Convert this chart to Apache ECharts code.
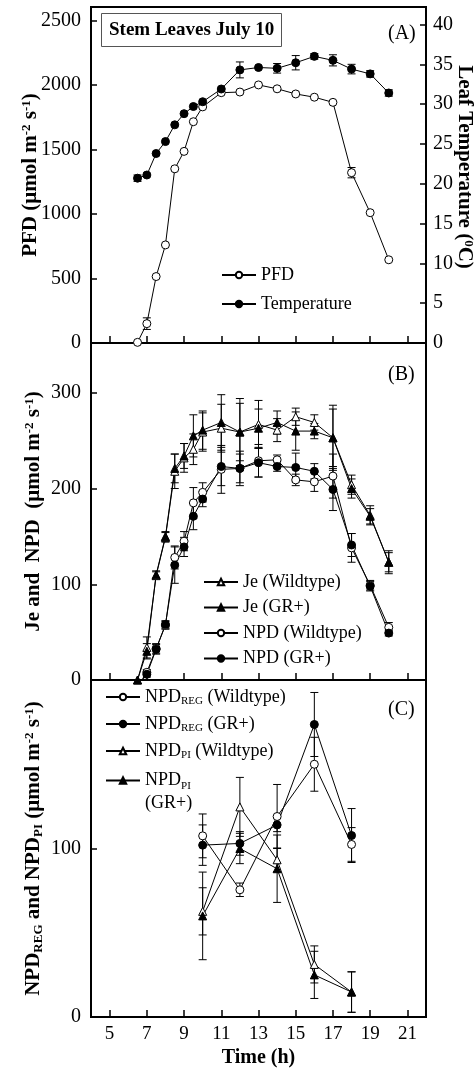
<!DOCTYPE html>
<html>
<head>
<meta charset="utf-8">
<script src="https://cdn.jsdelivr.net/npm/echarts@6/dist/echarts.min.js"></script>
<style>html,body{margin:0;padding:0;background:#fff}#c{width:475px;height:1072px}</style>
</head>
<body>
<div id="c"></div>
<script>
// ---------- DATA ----------
const xTicks = [5, 7, 9, 11, 13, 15, 17, 19, 21];
const pfdTicks = [0, 500, 1000, 1500, 2000, 2500];
const tempTicks = [0, 5, 10, 15, 20, 25, 30, 35, 40];
const jeTicks = [0, 100, 200, 300];
const npdTicks = [0, 100];

const hoursA = [6.5, 7, 7.5, 8, 8.5, 9, 9.5, 10, 11, 12, 13, 14, 15, 16, 17, 18, 19, 20];
const pfd     = [5, 150, 515, 760, 1350, 1485, 1715, 1830, 1940, 1945, 2000, 1970, 1930, 1905, 1865, 1320, 1010, 645];
const pfdErr  = [0, 45, 0, 0, 0, 0, 0, 0, 0, 0, 0, 0, 0, 0, 0, 40, 0, 0];
const temp    = [20.7, 21.1, 23.8, 25.3, 27.4, 28.8, 29.7, 30.3, 31.9, 34.3, 34.6, 34.5, 35.2, 36.0, 35.5, 34.4, 33.8, 31.4];
const tempErr = [0.4, 0, 0, 0, 0, 0, 0, 0, 0, 1.0, 0, 0.6, 0.9, 0.35, 0.7, 0.6, 0.4, 0.4];

const hoursB = [6.5, 7, 7.5, 8, 8.5, 9, 9.5, 10, 11, 12, 13, 14, 15, 16, 17, 18, 19, 20];
const jeWT     = [0, 34, 109, 149, 218, 232, 241, 259, 263, 259, 267, 261, 275, 269, 253, 204, 172, 123];
const jeWTErr  = [0, 11, 4, 5, 18, 15, 16, 20, 25, 30, 25, 12, 9, 8, 34, 10, 10, 12];
const jeGR     = [0, 30, 110, 150, 221, 234, 255, 261, 269, 259, 263, 269, 260, 260, 253, 200, 171, 123];
const jeGRErr  = [0, 8, 4, 5, 15, 13, 22, 20, 29, 35, 20, 12, 20, 8, 30, 10, 8, 10];
const npdWT    = [-7, 8, 33, 57, 128, 145, 185, 196, 220, 221, 229, 230, 209, 207, 213, 138, 99, 55];
const npdWTErr = [0, 3, 5, 4, 12, 10, 16, 10, 25, 18, 17, 5, 6, 10, 23, 15, 5, 5];
const npdGR    = [-7, 6, 32, 58, 120, 139, 171, 189, 223, 221, 227, 223, 222, 218, 199, 141, 98, 49];
const npdGRErr = [0, 3, 5, 4, 19, 10, 14, 8, 20, 15, 15, 5, 15, 8, 22, 12, 5, 3];

const hoursC = [10, 12, 14, 16, 18];
const regWT    = [107.5, 75.5, 119, 150, 102.4];
const regWTErr = [13, 4, 19, 16, 10];
const regGR    = [102, 103, 114, 173.6, 107.7];
const regGRErr = [12, 7, 4, 19, 16];
const piWT     = [62.7, 124.7, 93.3, 31.2, 14.8];
const piWTErr  = [14, 17.5, 7, 11, 12];
const piGR     = [60, 100, 88, 25, 14.8];
const piGRErr  = [26, 9, 20, 14, 12];

// ---------- HELPERS ----------
const FF = 'Liberation Serif, Times New Roman, serif';
const pts = (xs, ys) => xs.map((x, i) => [x, ys[i]]);
const errPts = (xs, ys, es) => xs.map((x, i) => es[i] > 0 ? [x, ys[i] - es[i], ys[i] + es[i]] : null).filter(Boolean);

function errRender(params, api) {
  const x = api.value(0), lo = api.value(1), hi = api.value(2);
  const p1 = api.coord([x, lo]), p2 = api.coord([x, hi]);
  const w = 4;
  const st = { stroke: '#000', lineWidth: 1 };
  return { type: 'group', children: [
    { type: 'line', shape: { x1: p1[0], y1: p1[1], x2: p2[0], y2: p2[1] }, style: st },
    { type: 'line', shape: { x1: p1[0] - w, y1: p1[1], x2: p1[0] + w, y2: p1[1] }, style: st },
    { type: 'line', shape: { x1: p2[0] - w, y1: p2[1], x2: p2[0] + w, y2: p2[1] }, style: st }
  ]};
}
function errSeries(xi, yi, data) {
  return { type: 'custom', xAxisIndex: xi, yAxisIndex: yi, renderItem: errRender, data: data,
           encode: { x: 0, y: [1, 2] }, z: 2, silent: true, clip: true };
}
function lineSeries(name, xi, yi, data, symbol, filled) {
  return { name: name, type: 'line', xAxisIndex: xi, yAxisIndex: yi, data: data,
           symbol: symbol, symbolSize: 8, showSymbol: true, z: 3, clip: true,
           lineStyle: { color: '#000', width: 1 },
           itemStyle: { color: filled ? '#000' : '#fff', borderColor: '#000', borderWidth: 1 } };
}

const GL = 91, GR = 49;
const grids = [
  { left: GL, right: GR, top: 7, height: 336 },
  { left: GL, right: GR, top: 343, height: 337 },
  { left: GL, right: GR, top: 680, height: 337 }
].map(g => Object.assign(g, { show: true, borderColor: '#000', borderWidth: 2, backgroundColor: 'transparent',
                              containLabel: false, outerBoundsMode: 'none' }));

function xAx(gi, showLabels) {
  const ax = {
    type: 'value', gridIndex: gi, min: 4, max: 22,
    axisLine: { show: true, onZero: false, lineStyle: { color: '#000', width: 2 } },
    axisTick: { show: true, inside: true, length: 7, lineStyle: { color: '#000', width: 1.5 }, customValues: xTicks },
    axisLabel: { show: showLabels, customValues: xTicks, color: '#000', fontFamily: FF, fontSize: 19, margin: 8,
                 formatter: v => String(v) },
    splitLine: { show: false }
  };
  if (showLabels) {
    ax.name = 'Time (h)';
    ax.nameLocation = 'middle';
    ax.nameGap = 31;
    ax.nameMoveOverlap = false;
    ax.nameTextStyle = { fontFamily: FF, fontSize: 20, fontWeight: 'bold', color: '#000' };
  }
  return ax;
}
const nameStyle = (size, pad) => ({
  fontFamily: FF, fontSize: size, fontWeight: 'bold', color: '#000', lineHeight: 22, padding: pad || 0,
  rich: {
    sup: { fontFamily: FF, fontSize: 13, lineHeight: 13, verticalAlign: 'top', fontWeight: 'bold', color: '#000' },
    sub: { fontFamily: FF, fontSize: 13, lineHeight: 13, verticalAlign: 'bottom', fontWeight: 'bold', color: '#000' }
  }
});
function yAx(gi, pos, max, ticks, name, gap, rotate, pad) {
  return {
    type: 'value', gridIndex: gi, position: pos, min: 0, max: max,
    name: name, nameLocation: 'middle', nameGap: gap, nameRotate: rotate, nameMoveOverlap: false,
    nameTextStyle: nameStyle(21, pad),
    axisLine: { show: true, onZero: false, lineStyle: { color: '#000', width: 2 } },
    axisTick: { show: true, inside: true, length: 6, lineStyle: { color: '#000', width: 1.5 }, customValues: ticks },
    axisLabel: { customValues: ticks, color: '#000', fontFamily: FF, fontSize: 20, margin: pos === 'left' ? 10 : 7,
                 formatter: v => String(v) },
    splitLine: { show: false }
  };
}

const legText = { fontFamily: FF, fontSize: 18, color: '#000', lineHeight: 20,
  rich: { sub: { fontFamily: FF, fontSize: 11, lineHeight: 11, verticalAlign: 'bottom', color: '#000' } } };
const legBase = { orient: 'vertical', itemWidth: 34, itemHeight: 8, selectedMode: false, textStyle: legText, padding: 0 };

const legendMap = {
  'NPD_REG (Wildtype)': 'NPD{sub|REG} (Wildtype)',
  'NPD_REG (GR+)': 'NPD{sub|REG} (GR+)',
  'NPD_PI (Wildtype)': 'NPD{sub|PI} (Wildtype)',
  'NPD_PI (GR+)': 'NPD{sub|PI}\n(GR+)'
};

const option = {
  animation: false,
  backgroundColor: '#fff',
  title: [
    { text: 'Stem Leaves July 10', left: 101, top: 13, padding: [7, 8], borderWidth: 1, borderColor: '#555',
      textStyle: { fontFamily: FF, fontSize: 19, fontWeight: 'bold', color: '#000', lineHeight: 20 } },
    { text: '(A)', left: 388, top: 24, padding: 0, textStyle: { fontFamily: FF, fontSize: 20, fontWeight: 'normal', color: '#000' } },
    { text: '(B)', left: 388, top: 365, padding: 0, textStyle: { fontFamily: FF, fontSize: 20, fontWeight: 'normal', color: '#000' } },
    { text: '(C)', left: 388, top: 700, padding: 0, textStyle: { fontFamily: FF, fontSize: 20, fontWeight: 'normal', color: '#000' } }
  ],
  legend: [
    Object.assign({}, legBase, { left: 221, top: 265, itemGap: 9, data: ['PFD', 'Temperature'] }),
    Object.assign({}, legBase, { left: 203, top: 572, itemGap: 5.5, data: ['Je (Wildtype)', 'Je (GR+)', 'NPD (Wildtype)', 'NPD (GR+)'] }),
    Object.assign({}, legBase, { left: 105, top: 687, itemGap: 7, data: ['NPD_REG (Wildtype)', 'NPD_REG (GR+)', 'NPD_PI (Wildtype)'],
      formatter: n => legendMap[n] || n }),
    Object.assign({}, legBase, { left: 105, top: 746, data: ['NPD_PI (GR+)'],
      formatter: n => legendMap[n] || n,
      textStyle: Object.assign({}, legText, { lineHeight: 23, padding: [23, 0, 0, 0] }) })
  ],
  grid: grids,
  xAxis: [xAx(0, false), xAx(1, false), xAx(2, true)],
  yAxis: [
    yAx(0, 'left', 2604, pfdTicks, 'PFD (μmol m{sup|-2} s{sup|-1})', 49, 90),
    yAx(0, 'right', 42.2, tempTicks, 'Leaf Temperature ({sup|0}C)', 27, -90, [0, 16, 0, 0]),
    yAx(1, 'left', 352, jeTicks, 'Je and  NPD  (μmol m{sup|-2} s{sup|-1})', 46, 90),
    yAx(2, 'left', 200, npdTicks, 'NPD{sub|REG} and NPD{sub|PI} (μmol m{sup|-2} s{sup|-1})', 46, 90)
  ],
  series: [
    errSeries(0, 0, errPts(hoursA, pfd, pfdErr)),
    errSeries(0, 1, errPts(hoursA, temp, tempErr)),
    lineSeries('PFD', 0, 0, pts(hoursA, pfd), 'circle', false),
    lineSeries('Temperature', 0, 1, pts(hoursA, temp), 'circle', true),

    errSeries(1, 2, errPts(hoursB, jeWT, jeWTErr)),
    errSeries(1, 2, errPts(hoursB, jeGR, jeGRErr)),
    errSeries(1, 2, errPts(hoursB, npdWT, npdWTErr)),
    errSeries(1, 2, errPts(hoursB, npdGR, npdGRErr)),
    lineSeries('Je (Wildtype)', 1, 2, pts(hoursB, jeWT), 'triangle', false),
    lineSeries('Je (GR+)', 1, 2, pts(hoursB, jeGR), 'triangle', true),
    lineSeries('NPD (Wildtype)', 1, 2, pts(hoursB, npdWT), 'circle', false),
    lineSeries('NPD (GR+)', 1, 2, pts(hoursB, npdGR), 'circle', true),

    errSeries(2, 3, errPts(hoursC, regWT, regWTErr)),
    errSeries(2, 3, errPts(hoursC, regGR, regGRErr)),
    errSeries(2, 3, errPts(hoursC, piWT, piWTErr)),
    errSeries(2, 3, errPts(hoursC, piGR, piGRErr)),
    lineSeries('NPD_REG (Wildtype)', 2, 3, pts(hoursC, regWT), 'circle', false),
    lineSeries('NPD_REG (GR+)', 2, 3, pts(hoursC, regGR), 'circle', true),
    lineSeries('NPD_PI (Wildtype)', 2, 3, pts(hoursC, piWT), 'triangle', false),
    lineSeries('NPD_PI (GR+)', 2, 3, pts(hoursC, piGR), 'triangle', true)
  ]
};
const chart = echarts.init(document.getElementById('c'), null, { renderer: 'canvas' });
chart.setOption(option);
</script>
</body>
</html>
